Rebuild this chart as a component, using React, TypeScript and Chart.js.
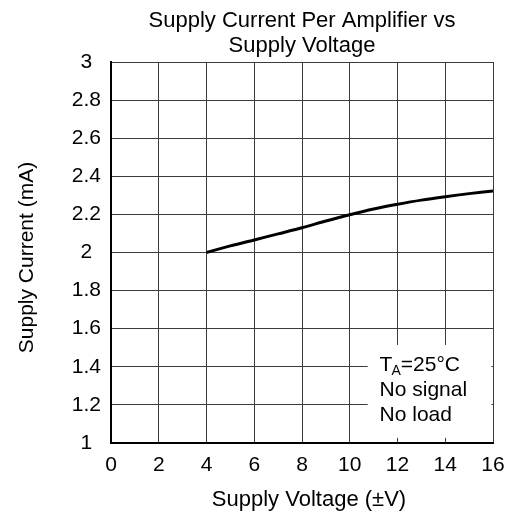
import React, { useEffect, useRef } from "react";
import { Chart, registerables } from "chart.js";

Chart.register(...registerables);

const titleLines = ["Supply Current Per Amplifier vs", "Supply Voltage"];
const xTitle = "Supply Voltage (±V)";
const yTitle = "Supply Current (mA)";
const noteLines = ["No signal", "No load"];

const voltage = [4, 5, 6, 7, 8, 9, 10, 11, 12, 13, 14, 15, 16];
const current = [2.0, 2.035, 2.066, 2.098, 2.13, 2.165, 2.198, 2.228, 2.253, 2.275, 2.293, 2.309, 2.323];

const FONT = "'Liberation Sans', Arial, sans-serif";

const textPlugin = {
  id: "texts",
  beforeDatasetsDraw(chart: any) {
    const { ctx, scales } = chart;
    const xs = scales.x;
    const ys = scales.y;
    const left = xs.getPixelForValue(10.75);
    const right = chart.chartArea.right - 1.5;
    const top = ys.getPixelForValue(1.515);
    const bottom = ys.getPixelForValue(1.027);
    ctx.save();
    ctx.fillStyle = "#fff";
    ctx.fillRect(left, top, right - left, bottom - top);
    ctx.restore();
  },
  afterDraw(chart: any) {
    const { ctx, chartArea, scales } = chart;
    const cx = (chartArea.left + chartArea.right) / 2;
    ctx.save();
    ctx.fillStyle = "#000";
    ctx.font = `22px ${FONT}`;
    ctx.textAlign = "center";
    ctx.textBaseline = "alphabetic";
    ctx.fillText(titleLines[0], cx, 27);
    ctx.fillText(titleLines[1], cx, 52);
    ctx.fillText(xTitle, cx + 7, 506);
    ctx.save();
    ctx.font = `21px ${FONT}`;
    ctx.translate(27, (chartArea.top + chartArea.bottom) / 2 + 5);
    ctx.rotate(-Math.PI / 2);
    ctx.textBaseline = "middle";
    ctx.fillText(yTitle, 0, 0);
    ctx.restore();

    const tx = scales.x.getPixelForValue(11.25);
    ctx.textAlign = "left";
    ctx.font = `21px ${FONT}`;
    const b1 = 371;
    ctx.fillText("T", tx, b1);
    const tw = ctx.measureText("T").width;
    ctx.font = `14px ${FONT}`;
    ctx.fillText("A", tx + tw - 1, b1 + 4);
    const aw = ctx.measureText("A").width;
    ctx.font = `21px ${FONT}`;
    ctx.fillText("=25°C", tx + tw - 1 + aw, b1);
    ctx.fillText(noteLines[0], tx, b1 + 25);
    ctx.fillText(noteLines[1], tx, b1 + 50);
    ctx.restore();
  },
};

export default function App() {
  const ref = useRef<HTMLCanvasElement | null>(null);
  useEffect(() => {
    if (!ref.current) return;
    const chart = new Chart(ref.current, {
      type: "line",
      data: {
        datasets: [
          {
            data: voltage.map((v, i) => ({ x: v, y: current[i] })),
            borderColor: "#000",
            borderWidth: 3,
            pointRadius: 0,
            tension: 0.3,
            fill: false,
          },
        ],
      },
      options: {
        animation: false,
        responsive: false,
        devicePixelRatio: 1,
        layout: { padding: { left: 0, top: 62, right: 15, bottom: 0 } },
        plugins: { legend: { display: false }, tooltip: { enabled: false }, title: { display: false } },
        scales: {
          x: {
            type: "linear",
            min: 0,
            max: 16,
            afterFit: (s: any) => {
              s.height = 75;
              s.paddingLeft = 0;
              s.paddingRight = 0;
            },
            ticks: {
              stepSize: 2,
              color: "#000",
              padding: 10,
              maxRotation: 0,
              font: { family: FONT, size: 21 },
            },
            grid: { color: "#3a3a3a", lineWidth: 1, drawTicks: false },
            border: { display: true, color: "#000", width: 2 },
          },
          y: {
            type: "linear",
            min: 1,
            max: 3,
            afterFit: (s: any) => {
              s.width = 111;
              s.paddingTop = 0;
              s.paddingBottom = 0;
            },
            ticks: {
              stepSize: 0.2,
              color: "#000",
              padding: 10,
              crossAlign: "center",
              font: { family: FONT, size: 21 },
              callback: (v: any) => String(Number(Number(v).toFixed(1))),
            },
            grid: { color: "#3a3a3a", lineWidth: 1, drawTicks: false },
            border: { display: true, color: "#000", width: 2 },
          },
        },
      },
      plugins: [textPlugin],
    });
    return () => chart.destroy();
  }, []);
  return (
    <div style={{ position: "fixed", left: 0, top: 0, width: 508, height: 518, background: "#fff" }}>
      <canvas ref={ref} width={508} height={518} style={{ width: 508, height: 518 }} />
    </div>
  );
}
